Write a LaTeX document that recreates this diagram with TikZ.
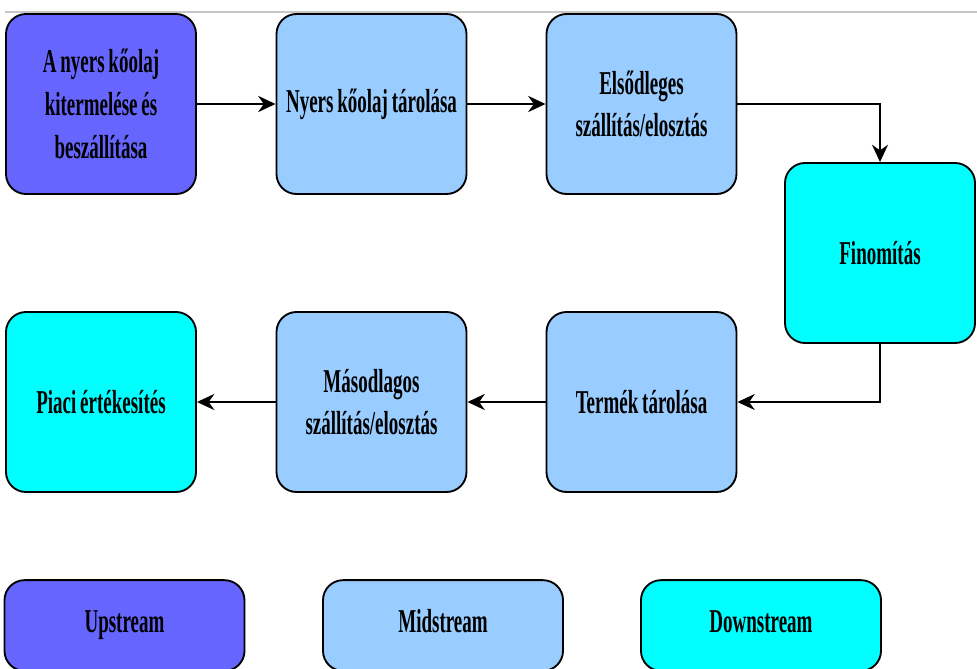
\documentclass[tikz,border=0pt]{standalone}
\usepackage{fontspec}
\setmainfont[FakeStretch=0.57, WordSpace=0.8]{Liberation Serif}
\usetikzlibrary{arrows.meta}

\definecolor{upcol}{HTML}{6666FF}
\definecolor{midcol}{HTML}{99CCFF}
\definecolor{downcol}{HTML}{00FFFF}

\begin{document}
\begin{tikzpicture}[x=0.75pt, y=-0.75pt,
  every node/.style={draw=black, line width=1.4pt, rounded corners=15pt, inner sep=0pt,
    align=center, font=\fontsize{25}{32}\selectfont\bfseries},
  stage/.style={minimum width=142.5pt, minimum height=135pt},
  legendbox/.style={minimum width=180pt, minimum height=68pt, text height=17pt, text depth=6pt},
  flow/.style={line width=2.2pt, -{Stealth[length=13pt, width=12pt]}}]
\useasboundingbox (0,0) rectangle (977,668);

% faint line along the top
\draw[black!22, line width=1.5pt] (5,12) -- (977,12);

\coordinate (R1a) at (101,104);
\coordinate (R1b) at (371.5,104);
\coordinate (R1c) at (641.5,104);
\coordinate (Ref) at (880,253);
\coordinate (R2c) at (641.5,402);
\coordinate (R2b) at (371.5,402);
\coordinate (R2a) at (101,402);

\begin{scope}[every node/.append style={fill=upcol}]
\node[stage] (kitermeles) at (R1a) {A nyers kőolaj\\ kitermelése és\\ beszállítása};
\node[legendbox] (up) at (124.5,625.5) {Upstream};
\end{scope}

\begin{scope}[every node/.append style={fill=midcol}]
\node[stage] (tarolas) at (R1b) {Nyers kőolaj tárolása};
\node[stage] (elsodleges) at (R1c) {Elsődleges\\ szállítás/elosztás};
\node[stage] (termek) at (R2c) {Termék tárolása};
\node[stage] (masodlagos) at (R2b) {Másodlagos\\ szállítás/elosztás};
\node[legendbox] (mid) at (443,625.5) {Midstream};
\end{scope}

\begin{scope}[every node/.append style={fill=downcol}]
\node[stage] (finomitas) at (Ref) {Finomítás};
\node[stage] (piaci) at (R2a) {Piaci értékesítés};
\node[legendbox] (down) at (761,625.5) {Downstream};
\end{scope}

\draw[flow] (kitermeles) -- (tarolas);
\draw[flow] (tarolas) -- (elsodleges);
\draw[flow, line width=1.5pt] (elsodleges.east) -| (finomitas.north);
\draw[flow, line width=1.5pt] (finomitas.south) |- (termek.east);
\draw[flow] (termek) -- (masodlagos);
\draw[flow] (masodlagos) -- (piaci);

\end{tikzpicture}
\end{document}
